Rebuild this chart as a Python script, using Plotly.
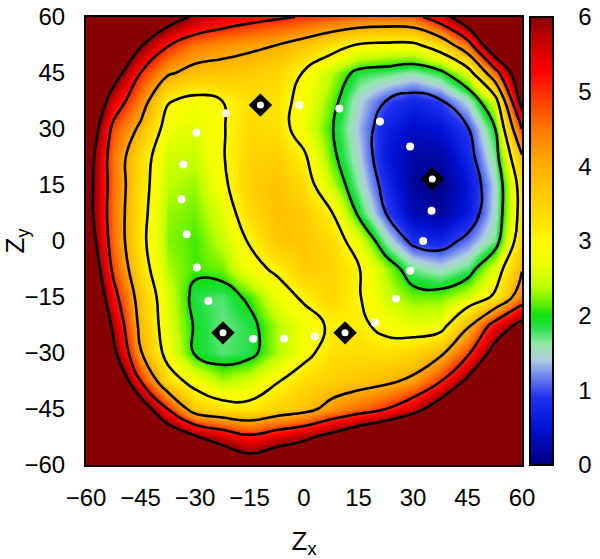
import plotly.graph_objects as go

# grid of the free-energy surface (step 7.5)
zx_grid = [-60, -52.5, -45, -37.5, -30, -22.5, -15, -7.5, 0, 7.5, 15, 22.5, 30, 37.5, 45, 52.5, 60]
zy_grid = [60, 52.5, 45, 37.5, 30, 22.5, 15, 7.5, 0, -7.5, -15, -22.5, -30, -37.5, -45, -52.5, -60]

# rows from top (zy=60) to bottom (zy=-60)
free_energy = [
    [9.0, 8.2, 7.3, 6.5, 5.85, 5.5, 5.25, 5.1, 4.95, 4.8, 4.65, 4.6, 4.7, 5.5, 6.8, 7.8, 8.6],
    [8.5, 7.2, 6.1, 5.05, 4.5, 4.3, 4.15, 4.0, 3.7, 3.3, 2.95, 2.85, 2.85, 3.4, 4.6, 7.0, 8.0],
    [8.0, 6.5, 5.0, 4.1, 3.75, 3.7, 3.6, 3.45, 2.95, 2.4, 1.85, 1.75, 1.6, 1.85, 2.6, 4.6, 7.0],
    [7.5, 5.5, 4.4, 3.05, 2.8, 3.0, 3.3, 3.25, 2.8, 2.2, 1.45, 1.0, 0.75, 0.95, 1.5, 2.6, 6.4],
    [7.0, 4.8, 3.85, 2.7, 2.6, 2.95, 3.4, 3.3, 2.7, 2.05, 1.35, 0.7, 0.4, 0.5, 0.95, 1.95, 5.0],
    [6.6, 4.55, 3.35, 2.5, 2.45, 2.95, 3.5, 3.55, 3.1, 2.15, 1.45, 0.6, 0.2, 0.2, 0.75, 1.7, 3.9],
    [6.5, 4.6, 3.3, 2.4, 2.3, 2.85, 3.55, 3.75, 3.35, 2.45, 1.6, 0.8, 0.15, 0.05, 0.55, 1.45, 3.35],
    [6.5, 4.55, 3.25, 2.3, 2.2, 2.6, 3.4, 3.8, 3.6, 3.05, 1.9, 1.0, 0.3, 0.15, 0.6, 1.5, 3.3],
    [6.8, 4.6, 3.2, 2.25, 2.1, 2.45, 3.05, 3.65, 3.7, 3.4, 2.65, 1.6, 0.85, 0.75, 1.15, 1.7, 3.5],
    [7.2, 4.85, 3.35, 2.35, 2.1, 2.2, 2.8, 3.1, 3.6, 3.5, 3.05, 2.35, 1.7, 1.5, 1.75, 2.6, 3.95],
    [7.6, 5.3, 3.65, 2.55, 1.85, 1.75, 2.1, 2.7, 3.1, 3.45, 3.05, 2.5, 2.2, 2.2, 2.5, 3.1, 4.5],
    [8.3, 5.8, 3.8, 2.6, 1.95, 1.7, 1.85, 2.35, 2.7, 3.1, 3.15, 2.8, 2.65, 2.7, 3.85, 5.3, 6.3],
    [8.8, 6.25, 4.05, 2.75, 1.95, 1.75, 1.85, 2.35, 2.8, 3.3, 3.35, 3.3, 3.45, 3.85, 4.85, 6.4, 7.5],
    [9.3, 7.3, 5.0, 3.35, 2.75, 2.35, 2.55, 2.95, 3.35, 3.55, 3.7, 3.85, 4.15, 4.95, 6.2, 7.5, 8.5],
    [9.8, 8.6, 6.7, 5.0, 3.6, 3.3, 3.2, 3.5, 3.75, 4.25, 4.6, 5.0, 5.6, 6.6, 7.8, 8.8, 9.5],
    [10.0, 9.5, 8.3, 6.9, 6.1, 5.6, 5.15, 5.5, 5.8, 6.3, 6.9, 7.4, 8.0, 8.6, 9.2, 9.6, 10.0],
    [10.0, 10.0, 9.5, 8.4, 7.6, 7.0, 6.6, 6.9, 7.2, 7.7, 8.3, 8.9, 9.4, 9.8, 10.0, 10.0, 10.0],
]

# path points (white dots)
path_x = [-21.5, -29.6, -33.2, -33.7, -32.3, -29.5, -26.3, -14.0, -5.5, 3.0,
          19.5, 25.3, 29.2, 32.8, 35.1, 29.2, 20.9, 9.7, -1.3]
path_y = [34.2, 29.0, 20.5, 11.2, 1.8, -7.1, -16.1, -26.2, -26.2, -25.6,
          -21.9, -15.5, -8.0, 0.0, 8.1, 25.3, 32.0, 35.5, 36.4]

# minima and saddle points (diamonds)
stat_x = [-12.0, 35.3, -22.3, 11.3]
stat_y = [36.4, 16.6, -24.6, -24.6]

tick_vals = [-60, -45, -30, -15, 0, 15, 30, 45, 60]
cbar_ticks = [0, 1, 2, 3, 4, 5, 6]

palette = [
    [0.00, "#000080"],
    [0.08, "#0010D0"],
    [0.15, "#2030F0"],
    [0.20, "#7088F0"],
    [0.235, "#B0CCE0"],
    [0.27, "#90E8A8"],
    [0.31, "#20E040"],
    [0.335, "#10E010"],
    [0.36, "#60F000"],
    [0.40, "#C0FF00"],
    [0.45, "#F0FF00"],
    [0.50, "#FFFA00"],
    [0.55, "#FFE000"],
    [0.62, "#FFC400"],
    [0.68, "#FFA800"],
    [0.75, "#FF7800"],
    [0.83, "#FF3000"],
    [0.88, "#FF0000"],
    [0.95, "#C00000"],
    [1.00, "#880000"],
]

z_rows = free_energy[::-1]
y_vals = zy_grid[::-1]

fig = go.Figure()

fig.add_trace(go.Heatmap(
    x=zx_grid, y=y_vals, z=z_rows,
    zmin=0, zmax=6, zsmooth="best",
    colorscale=palette,
    colorbar=dict(
        x=1.0183, xanchor="left", xpad=0,
        y=0.5, yanchor="middle", ypad=0, len=1,
        thickness=23,
        outlinewidth=2, outlinecolor="black",
        tickvals=cbar_ticks,
        ticks="outside", ticklen=20, tickcolor="rgba(0,0,0,0)",
        ticklabeloverflow="allow",
        tickfont=dict(size=24, color="black"),
    ),
    hoverinfo="skip",
))

fig.add_trace(go.Contour(
    x=zx_grid, y=y_vals, z=z_rows,
    contours=dict(start=1, end=6, size=1, coloring="none"),
    line=dict(color="black", width=2.6, smoothing=1.3),
    showscale=False,
    hoverinfo="skip",
))

fig.add_trace(go.Scatter(
    x=path_x, y=path_y, mode="markers",
    marker=dict(color="white", size=8),
    showlegend=False, hoverinfo="skip",
))

fig.add_trace(go.Scatter(
    x=stat_x, y=stat_y, mode="markers",
    marker=dict(symbol="diamond", color="black", size=18),
    showlegend=False, hoverinfo="skip",
))
fig.add_trace(go.Scatter(
    x=stat_x, y=stat_y, mode="markers",
    marker=dict(color="white", size=7),
    showlegend=False, hoverinfo="skip",
))

# small inward tick dashes on the colour bar
bar_left = 1.0183
bar_right = bar_left + 23 / 436
for v in cbar_ticks[1:-1]:
    for x0, x1 in [(bar_left, bar_left + 4 / 436), (bar_right - 4 / 436, bar_right)]:
        fig.add_shape(type="line", xref="paper", yref="paper",
                      x0=x0, x1=x1, y0=v / 6, y1=v / 6,
                      line=dict(color="black", width=2))

fig.update_layout(
    width=600, height=559,
    margin=dict(l=86, r=78, t=17, b=94, autoexpand=False),
    paper_bgcolor="white",
    plot_bgcolor="white",
    font=dict(family="Liberation Sans, Arial, sans-serif", size=24, color="black"),
    showlegend=False,
    xaxis=dict(
        range=[-60, 60], tickvals=tick_vals,
        showgrid=False, zeroline=False, automargin=False,
        showline=True, linecolor="black", linewidth=2, mirror=True,
        ticks="outside", ticklen=10, tickcolor="rgba(0,0,0,0)",
        ticklabeloverflow="allow",
        title=dict(text="Z<sub>x</sub>", font=dict(size=26), standoff=22),
    ),
    yaxis=dict(
        range=[-60, 60], tickvals=tick_vals,
        showgrid=False, zeroline=False, automargin=False,
        showline=True, linecolor="black", linewidth=2, mirror=True,
        ticks="outside", ticklen=14, tickcolor="rgba(0,0,0,0)",
        ticklabeloverflow="allow",
        title=dict(text="Z<sub>y</sub>", font=dict(size=26), standoff=9),
    ),
)

# drop the browser's default body margin so the figure fills the window
fig.write_html("out.html", config={"displayModeBar": False},
               post_script="document.body.style.margin = '0';")
